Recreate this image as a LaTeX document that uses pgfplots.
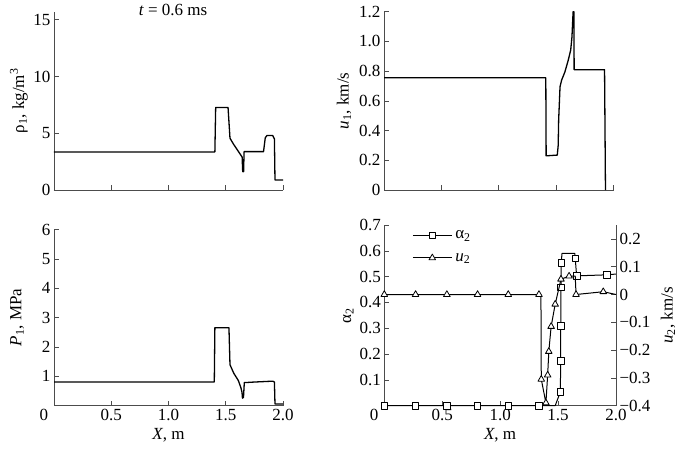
\documentclass[border=0pt]{standalone}
\usepackage{fontspec}
\setmainfont{Liberation Serif}
\usepackage{pgfplots}
\pgfplotsset{compat=1.18}

\newcommand\lbl{\fontsize{17}{20}\selectfont}

\pgfplotsset{
  panel/.style={
    scale only axis,
    anchor=south west,
    axis x line*=bottom,
    axis y line*=left,
    xmin=0, xmax=2,
    tick align=inside,
    major tick length=5pt,
    tick style={black!70, line width=0.6pt},
    axis line style={black!70, line width=0.8pt},
    tick label style={font=\lbl},
    label style={font=\lbl},
    /pgf/number format/assume math mode=true,
    clip=false,
  },
  curve/.style={black, line width=1.3pt, line join=round},
}

\begin{document}
\begin{tikzpicture}
\useasboundingbox (0pt,0pt) rectangle (685pt,-450pt);

% rho_1
\begin{axis}[panel, at={(54pt,-190pt)}, width=229pt, height=178.3pt,
    ymin=0, ymax=15.7, ytick={0,5,10,15},
    xtick={0.5,1,1.5,2}, xticklabels={},
    ylabel={ρ\textsubscript{1}, kg/m\textsuperscript{3}},
    ylabel style={at={([xshift=-35pt]rel axis cs:0,0.5)}, anchor=center}]
  \addplot[curve] coordinates {
    (0,3.35) (1.405,3.35) (1.412,7.27) (1.52,7.27) (1.537,4.56) (1.57,4.0)
    (1.61,3.4) (1.643,2.9) (1.648,1.62) (1.656,1.62) (1.66,3.38) (1.83,3.38)
    (1.845,4.6) (1.86,4.8) (1.91,4.8) (1.925,4.5) (1.93,0.88) (2.0,0.88)
  };
\end{axis}
\node[anchor=base, font=\lbl] at (173pt,-15pt) {\textit{t} = 0.6 ms};

% u_1
\begin{axis}[panel, at={(384pt,-190pt)}, width=229.5pt, height=178.3pt,
    ymin=0, ymax=1.2, ytick={0,0.2,0.4,0.6,0.8,1.0,1.2},
    yticklabels={0,0.2,0.4,0.6,0.8,1.0,1.2},
    xtick={0.5,1,1.5,2}, xticklabels={},
    ylabel={\textit{u}\textsubscript{1}, km/s},
    ylabel style={at={([xshift=-40pt]rel axis cs:0,0.5)}, anchor=center}]
  \addplot[curve] coordinates {
    (0,0.755) (1.41,0.755) (1.413,0.23) (1.51,0.235) (1.518,0.3) (1.522,0.47)
    (1.534,0.695) (1.548,0.74) (1.577,0.796) (1.606,0.875) (1.627,0.942)
    (1.638,1.03) (1.645,1.15) (1.648,1.2) (1.655,1.2) (1.657,0.81)
    (1.922,0.81) (1.93,0)
  };
\end{axis}

% P_1
\begin{axis}[panel, at={(54pt,-405.5pt)}, width=229pt, height=176pt,
    ymin=0, ymax=6, ytick={1,2,3,4,5,6},
    xtick={0,0.5,1,1.5,2},
    xticklabels={\llap{0\hspace{6pt}},0.5,1.0,1.5,2.0},
    xlabel={\textit{X}, m},
    xlabel style={at={([yshift=-30pt]rel axis cs:0.5,0)}, anchor=center},
    ylabel={\textit{P}\textsubscript{1}, MPa},
    ylabel style={at={([xshift=-37pt]rel axis cs:0,0.5)}, anchor=center}]
  \addplot[curve] coordinates {
    (0,0.8) (1.40,0.8) (1.405,2.65) (1.528,2.65) (1.537,1.39) (1.57,1.1)
    (1.61,0.85) (1.632,0.61) (1.642,0.45) (1.646,0.25) (1.655,0.28)
    (1.662,0.78) (1.75,0.8) (1.91,0.83) (1.925,0.8) (1.93,0.05) (2.0,0.05)
  };
\end{axis}

% alpha_2 (left) and u_2 (right)
\begin{axis}[panel, at={(384.3pt,-405.7pt)}, width=231.7pt, height=180.7pt,
    ymin=0, ymax=0.7, ytick={0.1,0.2,0.3,0.4,0.5,0.6,0.7},
    xtick={0,0.5,1,1.5,2},
    xticklabels={\llap{0\hspace{6pt}},0.5,1.0,1.5,2.0},
    xlabel={\textit{X}, m},
    xlabel style={at={([yshift=-30pt]rel axis cs:0.5,0)}, anchor=center},
    ylabel={α\textsubscript{2}},
    ylabel style={at={([xshift=-36pt]rel axis cs:0,0.5)}, anchor=center},
    legend style={at={(rel axis cs:0.12,0.975)}, anchor=north west,
      draw=none, fill=none, inner sep=0pt, row sep=11pt, font=\lbl,
      nodes={inner sep=1pt, anchor=west},
      /tikz/every odd column/.append style={column sep=2pt}},
    legend image code/.code={\draw[mark indices={2}]
      plot coordinates {(0pt,0pt) (19.5pt,0pt) (39pt,0pt)};}]
  \addplot[curve, line width=1pt, mark=square*, mark size=3.3pt,
      mark options={fill=white, line width=0.8pt},
      mark indices={1,2,3,4,5,6,8,9,10,11,12,15,16,17}] coordinates {
    (0.0,0) (0.27,0) (0.54,0) (0.805,0) (1.07,0) (1.335,0) (1.475,0)
    (1.52,0.054) (1.522,0.173) (1.523,0.309) (1.525,0.459) (1.527,0.554)
    (1.534,0.59) (1.645,0.59) (1.648,0.571) (1.66,0.503) (1.92,0.507)
    (2.0,0.51)
  };
  \addlegendentry{α\textsubscript{2}}
  \addlegendimage{curve, line width=1pt, mark=triangle*, mark size=3.8pt,
      mark options={fill=white, line width=0.8pt}}
  \addlegendentry{\textit{u}\textsubscript{2}}
\end{axis}
\begin{axis}[panel, at={(384.3pt,-405.7pt)}, width=231.7pt, height=180.7pt,
    axis x line=none, axis y line*=right,
    ymin=-0.4, ymax=0.25, ytick={-0.4,-0.3,-0.2,-0.1,0,0.1,0.2},
    yticklabels={−0.4,−0.3,−0.2,−0.1,0,0.1,0.2},
    ylabel={\textit{u}\textsubscript{2}, km/s},
    ylabel style={at={([xshift=52pt]rel axis cs:1,0.5)}, anchor=center, rotate=0}]
  \addplot[curve, line width=1pt, mark=triangle*, mark size=3.8pt,
      mark options={fill=white, line width=0.8pt},
      mark indices={1,2,3,4,5,6,8,9,10,11,12,13,14,15,17,18}] coordinates {
    (0.0,0) (0.27,0) (0.54,0) (0.805,0) (1.07,0) (1.335,0) (1.352,0)
    (1.355,-0.305) (1.395,-0.39) (1.41,-0.29) (1.42,-0.205) (1.44,-0.115)
    (1.475,-0.035) (1.525,0.055) (1.595,0.066) (1.648,0.066) (1.655,0.0)
    (1.89,0.01) (2.0,0.0)
  };
\end{axis}
\end{tikzpicture}
\end{document}
